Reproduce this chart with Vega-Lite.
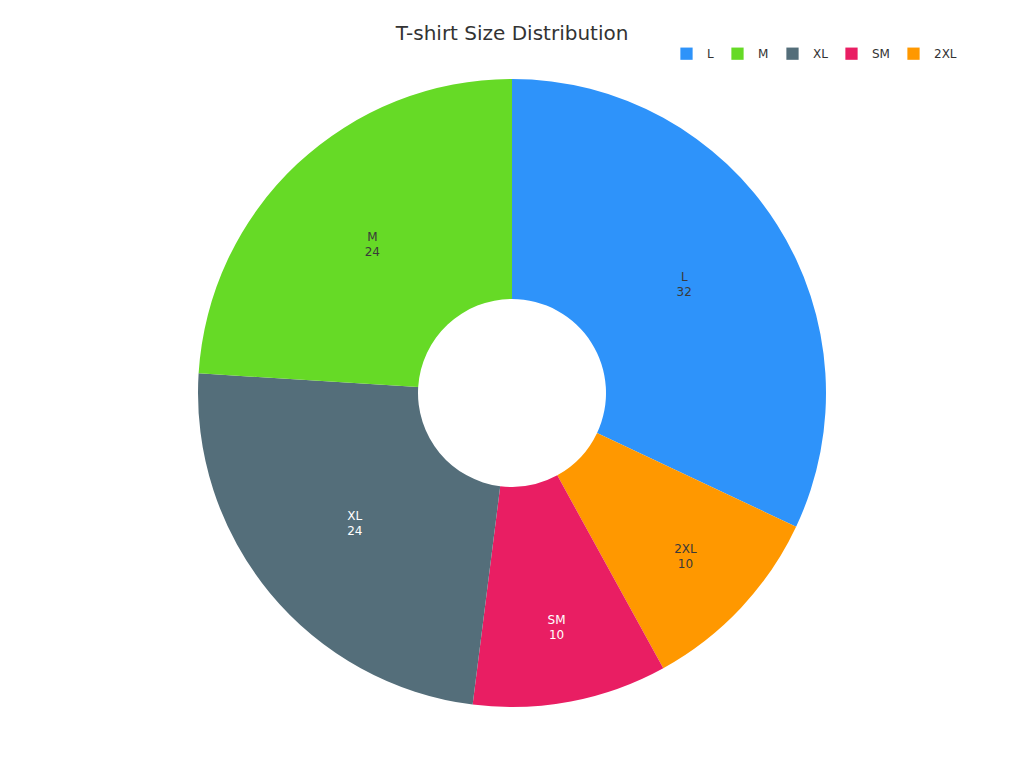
{
  "$schema": "https://vega.github.io/schema/vega-lite/v6.json",
  "width": 1024,
  "height": 706,
  "autosize": "none",
  "padding": {"top": 40, "left": 0, "right": 0, "bottom": 22},
  "background": "white",
  "title": {
    "text": "T-shirt Size Distribution",
    "anchor": "middle",
    "fontSize": 20,
    "fontWeight": "normal",
    "font": "DejaVu Sans",
    "color": "#333333",
    "offset": -4
  },
  "data": {
    "values": [
      {"size": "L", "count": 32},
      {"size": "2XL", "count": 10},
      {"size": "SM", "count": 10},
      {"size": "XL", "count": 24},
      {"size": "M", "count": 24}
    ]
  },
  "transform": [{"window": [{"op": "row_number", "as": "slot"}]}],
  "encoding": {
    "theta": {"field": "count", "type": "quantitative", "stack": true},
    "order": {"field": "slot", "type": "quantitative"}
  },
  "layer": [
    {
      "mark": {"type": "arc", "outerRadius": 314, "innerRadius": 94},
      "encoding": {
        "color": {
          "field": "size",
          "type": "nominal",
          "scale": {
            "domain": ["L", "M", "XL", "SM", "2XL"],
            "range": ["#2E93fA", "#66DA26", "#546E7A", "#E91E63", "#FF9800"]
          },
          "legend": {
            "title": null,
            "orient": "none",
            "legendX": 680,
            "legendY": 7,
            "direction": "horizontal",
            "symbolType": "square",
            "symbolSize": 150,
            "symbolStrokeWidth": 0,
            "labelFont": "DejaVu Sans",
            "labelFontSize": 12,
            "labelColor": "#333333",
            "labelOffset": 14,
            "columnPadding": 17
          }
        }
      }
    },
    {
      "mark": {"type": "text", "radius": 204, "dy": -7, "font": "DejaVu Sans", "fontSize": 12},
      "encoding": {
        "text": {"field": "size", "type": "nominal"},
        "opacity": {"condition": {"test": "datum.count < 15", "value": 0}, "value": 1},
        "color": {
          "condition": {"test": "datum.size === 'XL' || datum.size === 'SM'", "value": "#ffffff"},
          "value": "#3a3a3a"
        }
      }
    },
    {
      "mark": {"type": "text", "radius": 204, "dy": 8, "font": "DejaVu Sans", "fontSize": 12},
      "encoding": {
        "text": {"field": "count", "type": "quantitative"},
        "opacity": {"condition": {"test": "datum.count < 15", "value": 0}, "value": 1},
        "color": {
          "condition": {"test": "datum.size === 'XL' || datum.size === 'SM'", "value": "#ffffff"},
          "value": "#3a3a3a"
        }
      }
    },
    {
      "mark": {"type": "text", "radius": 238, "dy": -7, "font": "DejaVu Sans", "fontSize": 12},
      "encoding": {
        "text": {"field": "size", "type": "nominal"},
        "opacity": {"condition": {"test": "datum.count >= 15", "value": 0}, "value": 1},
        "color": {
          "condition": {"test": "datum.size === 'XL' || datum.size === 'SM'", "value": "#ffffff"},
          "value": "#3a3a3a"
        }
      }
    },
    {
      "mark": {"type": "text", "radius": 238, "dy": 8, "font": "DejaVu Sans", "fontSize": 12},
      "encoding": {
        "text": {"field": "count", "type": "quantitative"},
        "opacity": {"condition": {"test": "datum.count >= 15", "value": 0}, "value": 1},
        "color": {
          "condition": {"test": "datum.size === 'XL' || datum.size === 'SM'", "value": "#ffffff"},
          "value": "#3a3a3a"
        }
      }
    }
  ],
  "config": {"view": {"stroke": null}}
}
